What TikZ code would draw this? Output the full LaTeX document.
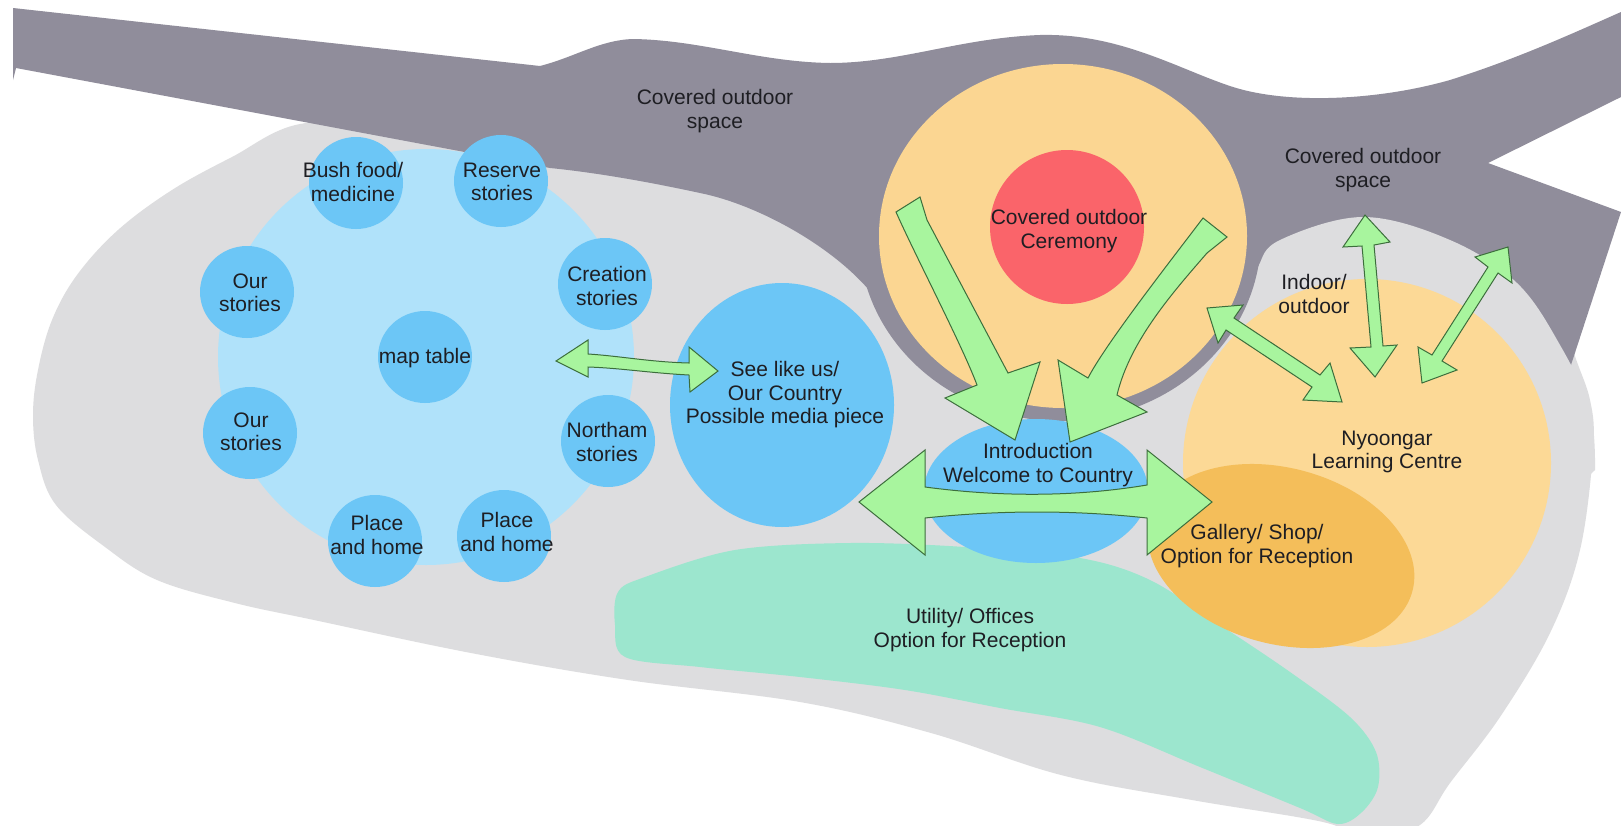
\documentclass[tikz,border=0pt]{standalone}
\usepackage{fontspec}
\setmainfont{Liberation Sans}
\definecolor{bandc}{RGB}{144,141,155}
\definecolor{lgrey}{RGB}{221,221,223}
\definecolor{lblue}{RGB}{176,226,250}
\definecolor{mblue}{RGB}{108,198,246}
\definecolor{orng}{RGB}{251,214,146}
\definecolor{nyoc}{RGB}{252,217,150}
\definecolor{galc}{RGB}{244,190,90}
\definecolor{redc}{RGB}{250,100,106}
\definecolor{utilc}{RGB}{156,230,206}
\definecolor{arrf}{RGB}{168,245,158}
\definecolor{arrd}{RGB}{60,110,60}
\definecolor{txtc}{RGB}{30,30,35}
\tikzset{
 lbl/.style={font=\fontsize{21}{23.5}\selectfont, text=txtc, align=center, inner sep=0pt},
 arr/.style={fill=arrf, draw=arrd, line width=1pt, line join=miter},
 smallc/.style={fill=mblue},
}
\begin{document}
\begin{tikzpicture}[x=1pt,y=-1pt]
\useasboundingbox (0,0) rectangle (1621,825);
\clip (0,0) rectangle (1621,825);
\fill[white] (0,0) rectangle (1621,825);
% main grey blob
\fill[lgrey] plot[smooth cycle, tension=0.6] coordinates {
 (300,124) (232,157) (172,190) (118,230) (77,275) (52,320) (38,370) (33,415)
 (38,460) (56,505) (105,547) (157,580) (235,603) (314,620) (471,653) (628,680)
 (800,702) (931,733) (1061,775) (1192,800) (1323,822) (1370,840) (1420,825)
 (1450,783) (1500,717) (1550,633) (1580,550) (1593,450) (1590,400) (1570,340)
 (1540,220) (1200,150) (900,140) (550,135) (400,125)};
% covered outdoor band
\fill[bandc] (13,8) -- (540,66)
  .. controls (575,57) and (600,40) .. (633,39)
  .. controls (700,40) and (760,62) .. (830,63)
  .. controls (900,63) and (960,38) .. (1040,35)
  .. controls (1120,33) and (1180,70) .. (1233,87)
  .. controls (1290,105) and (1380,100) .. (1450,80)
  .. controls (1520,58) and (1580,30) .. (1621,12)
  -- (1621,97) -- (1488,163) -- (1621,212) -- (1570,368) -- (1380,300)
  -- (1062,236) -- (877,300)
  .. controls (840,250) and (760,205) .. (700,193)
  .. controls (640,180) and (590,172) .. (550,168)
  -- (16,68) -- (13,80) -- cycle;
% right grey blob (indoor/outdoor)
\fill[lgrey] (1190,430) -- (1200,400) -- plot[smooth, tension=0.6] coordinates {
 (1200,400) (1226,345) (1247,300) (1258,267) (1280,240) (1363,217) (1450,240)
 (1517,283) (1560,345) (1590,410) (1595,470)} -- (1500,560) -- (1190,560) -- cycle;
% utility
\fill[utilc] plot[smooth cycle, tension=0.55] coordinates {
 (618,592) (645,577) (735,550) (850,543) (965,547) (1080,558) (1150,580)
 (1220,625) (1290,672) (1350,717) (1376,752) (1378,787) (1362,812) (1338,824)
 (1300,808) (1200,767) (1100,727) (1000,708) (905,690) (800,677) (700,667)
 (625,657) (615,625)};
% Nyoongar and gallery
\fill[nyoc] (1367,463) ellipse [x radius=184, y radius=184];
\fill[galc, rotate around={-15:(1281,556)}] (1281,556) ellipse [x radius=136, y radius=88];
% ring, orange, red
\fill[bandc] (1060,236) ellipse [x radius=201, y radius=185];
\fill[orng] (1063,236) ellipse [x radius=184, y radius=172];
\fill[redc] (1067,227) circle [radius=77];
% left cluster
\fill[lblue] (426,357) circle [radius=208];
\foreach \p in {(356,183),(501,181),(605,284),(247,292),(250,433),(608,441),(375,541),(504,536),(425,357)}
  \fill[smallc] \p ellipse [x radius=47, y radius=46];
\fill[mblue] (782,405) ellipse [x radius=112, y radius=122];
\fill[mblue] (1036,491) ellipse [x radius=112, y radius=72];
% arrows
\draw[arr] (556,361) -- (588,340) -- (588,354)
  .. controls (620,356) and (650,362) .. (689,363) -- (689,347) -- (718,371)
  -- (690,392) -- (689,375) .. controls (650,373) and (620,368) .. (588,367)
  -- (588,377) -- cycle;
\draw[arr] (859,502) -- (925,450) -- (925,487)
  .. controls (1000,497) and (1075,497) .. (1147,485) -- (1147,450) -- (1212,502)
  -- (1147,555) -- (1147,518) .. controls (1075,510) and (1000,510) .. (925,518)
  -- (925,555) -- cycle;
\draw[arr] (896,212) -- (920,197) -- (927,220) -- (1008,373) -- (1040,362)
  -- (1015,440) -- (945,398) -- (977,385)
  .. controls (962,345) and (915,255) .. (896,212) -- cycle;
\draw[arr] (1203,218) -- (1227,237) -- (1207,253)
  .. controls (1175,290) and (1130,340) .. (1117,395) -- (1147,412) -- (1070,442)
  -- (1058,360) -- (1088,378) .. controls (1105,345) and (1165,268) .. (1203,218) -- cycle;
\draw[arr] (1207,308) -- (1243,305) -- (1234,318) -- (1320,375) -- (1330,363)
  -- (1342,402) -- (1303,400) -- (1312,387) -- (1226,330) -- (1218,343) -- cycle;
\draw[arr] (1365,215) -- (1390,242) -- (1374,245) -- (1383,346) -- (1397,345)
  -- (1375,377) -- (1350,348) -- (1371,347) -- (1362,246) -- (1343,247) -- cycle;
\draw[arr] (1508,247) -- (1512,283) -- (1498,273) -- (1442,361) -- (1457,370)
  -- (1422,383) -- (1418,347) -- (1432,355) -- (1488,267) -- (1475,257) -- cycle;
% labels
\node[lbl] (cov1) at (715,111) {Covered outdoor\\space};
\node[lbl] (cov2) at (1363,170) {Covered outdoor\\space};
\node[lbl] (cer) at (1069,231) {Covered outdoor\\Ceremony};
\node[lbl] (indoor) at (1314,294) {Indoor/\\outdoor};
\node[lbl] (nyo) at (1387,452) {Nyoongar\\Learning Centre};
\node[lbl] (gal) at (1257,546) {Gallery/ Shop/\\Option for Reception};
\node[lbl] (util) at (970,630) {Utility/ Offices\\Option for Reception};
\node[lbl] (intro) at (1038,465) {Introduction\\Welcome to Country};
\node[lbl] (see) at (785,395) {See like us/\\Our Country\\Possible media piece};
\node[lbl] (map) at (425,358) {map table};
\node[lbl] (bush) at (353,182) {Bush food/\\medicine};
\node[lbl] (reserve) at (502,182) {Reserve\\stories};
\node[lbl] (creation) at (607,286) {Creation\\stories};
\node[lbl] (oura) at (250,293) {Our\\stories};
\node[lbl] (ourb) at (251,432) {Our\\stories};
\node[lbl] (northam) at (607,442) {Northam\\stories};
\node[lbl] (placel) at (377,535) {Place\\and home};
\node[lbl] (placer) at (507,532) {Place\\and home};
\end{tikzpicture}
\end{document}
